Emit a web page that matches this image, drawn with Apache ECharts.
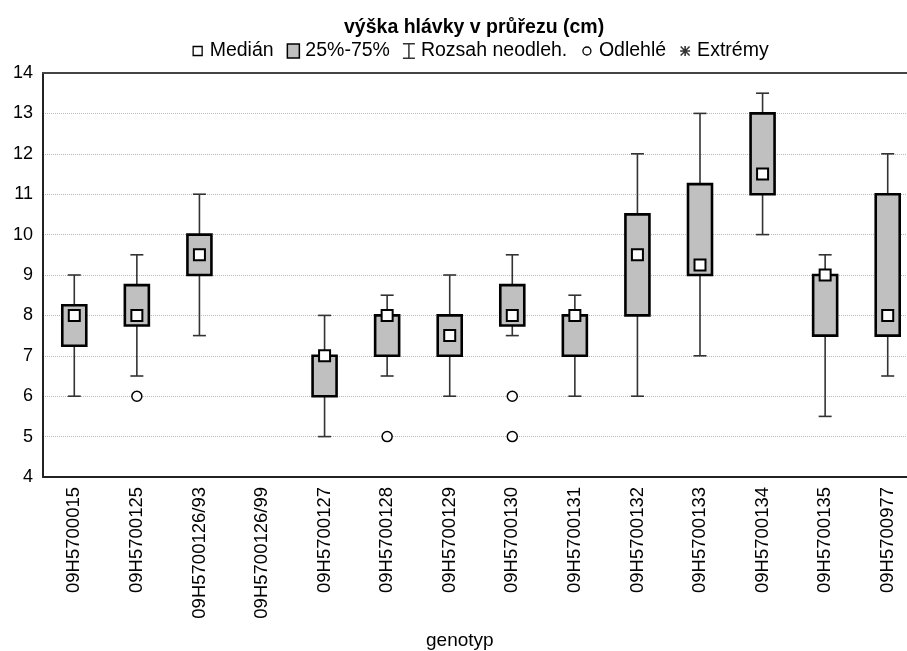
<!DOCTYPE html>
<html>
<head>
<meta charset="utf-8">
<script src="https://cdn.jsdelivr.net/npm/echarts@6/dist/echarts.min.js"></script>
<style>html,body{margin:0;padding:0;background:#fff}#c{width:907px;height:651px}</style>
</head>
<body>
<div id="c"></div>
<script>
const categories = ['09H5700015','09H5700125','09H5700126/93','09H5700126/99','09H5700127','09H5700128','09H5700129','09H5700130','09H5700131','09H5700132','09H5700133','09H5700134','09H5700135','09H5700977'];
const whiskerLow  = [6,    6.5,  7.5, null, 5, 6.5, 6,   7.5,  6,   6,    7,     10,   5.5, 6.5];
const q1          = [7.25, 7.75, 9,   null, 6, 7,   7,   7.75, 7,   8,    9,     11,   7.5, 7.5];
const median      = [8,    8,    9.5, null, 7, 8,   7.5, 8,    8,   9.5,  9.25,  11.5, 9,   8];
const q3          = [8.25, 8.75, 10,  null, 7, 8,   8,   8.75, 8,   10.5, 11.25, 13,   9,   11];
const whiskerHigh = [9,    9.5,  11,  null, 8, 8.5, 9,   9.5,  8.5, 12,   13,    13.5, 9.5, 12];
const outliers = [[1, 6], [5, 5], [7, 6], [7, 5]];
const yTicks = [4, 5, 6, 7, 8, 9, 10, 11, 12, 13, 14];

const FONT = '"Liberation Sans", Arial, sans-serif';
const rows = [];
categories.forEach((c, i) => {
  if (median[i] != null) rows.push([i, whiskerLow[i], q1[i], median[i], q3[i], whiskerHigh[i]]);
});
const medPts = rows.map(r => [r[0], r[3]]);

const BOX_W = 24, CAP_W = 13;
function renderBox(params, api) {
  const x = api.value(0);
  const a = api.coord([x, api.value(2)]);
  const b = api.coord([x, api.value(4)]);
  return {
    type: 'rect',
    shape: { x: a[0] - BOX_W / 2, y: b[1], width: BOX_W, height: Math.max(a[1] - b[1], 0.1) },
    style: { fill: '#c0c0c0', stroke: '#000', lineWidth: 2.6 }
  };
}
function renderWhisker(params, api) {
  const x = api.value(0);
  const lo = api.coord([x, api.value(1)]);
  const bq1 = api.coord([x, api.value(2)]);
  const bq3 = api.coord([x, api.value(4)]);
  const hi = api.coord([x, api.value(5)]);
  const st = { stroke: '#333', lineWidth: 1.6 };
  return {
    type: 'group',
    children: [
      { type: 'line', shape: { x1: lo[0], y1: lo[1], x2: bq1[0], y2: bq1[1] }, style: st },
      { type: 'line', shape: { x1: bq3[0], y1: bq3[1], x2: hi[0], y2: hi[1] }, style: st },
      { type: 'line', shape: { x1: lo[0] - CAP_W / 2, y1: lo[1], x2: lo[0] + CAP_W / 2, y2: lo[1] }, style: st },
      { type: 'line', shape: { x1: hi[0] - CAP_W / 2, y1: hi[1], x2: hi[0] + CAP_W / 2, y2: hi[1] }, style: st }
    ]
  };
}

// legend icons drawn in a 14x16 box (leading moves fix the box)
const ICON_MED = 'path://M0,0M14,16M2.5,3.5H11.5V12.5H2.5Z';
const ICON_BOX = 'path://M0,0M14,16M1,1H13V15H1Z';
const ICON_IBEAM = 'path://M0,0M14,16M1,0H13V1.5H7.75V14.5H13V16H1V14.5H6.25V1.5H1Z';
const ICON_CIRC = 'path://M0,0M14,16M3,8A4,4 0 1 1 11,8A4,4 0 1 1 3,8Z';
const ICON_STAR = 'path://M0,0M14,16M6.2,3H7.8V13H6.2Z M2,7.2H12V8.8H2Z M3.1,3L12,11.9L10.9,13L2,4.1Z M10.9,3L12,4.1L3.1,13L2,11.9Z';
const STAR = 'path://M4.2,0H5.8V10H4.2Z M0,4.2H10V5.8H0Z M1.1,0L10,8.9L8.9,10L0,1.1Z M8.9,0L10,1.1L1.1,10L0,8.9Z';

const chart = echarts.init(document.getElementById('c'), null, { renderer: 'canvas' });
chart.setOption({
  animation: false,
  backgroundColor: '#fff',
  title: [
    { text: 'výška hlávky v průřezu (cm)', left: 339, top: 13,
      textStyle: { fontFamily: FONT, fontSize: 19.5, fontWeight: 'bold', color: '#000' } },
    { text: 'genotyp', left: 421, top: 626,
      textStyle: { fontFamily: FONT, fontSize: 19, fontWeight: 'normal', color: '#000' } }
  ],
  legend: {
    left: 185, top: 36, itemGap: 12, itemWidth: 14, itemHeight: 16, selectedMode: false,
    textStyle: { fontFamily: FONT, fontSize: 19.5, color: '#000' },
    data: [
      { name: 'Medián', icon: ICON_MED, itemStyle: { color: '#fff', borderColor: '#000', borderWidth: 1.3 } },
      { name: '25%-75%', icon: ICON_BOX, itemStyle: { color: '#c0c0c0', borderColor: '#000', borderWidth: 1.5 } },
      { name: 'Rozsah neodleh.', icon: ICON_IBEAM, itemStyle: { color: '#333', borderWidth: 0 } },
      { name: 'Odlehlé', icon: ICON_CIRC, itemStyle: { color: '#fff', borderColor: '#000', borderWidth: 1.3 } },
      { name: 'Extrémy', icon: ICON_STAR, itemStyle: { color: '#000', borderWidth: 0 } }
    ]
  },
  grid: { left: 43, width: 876, top: 73, bottom: 174, containLabel: false, outerBoundsMode: 'none' },
  xAxis: [
    { type: 'category', data: categories, boundaryGap: true,
      axisLine: { lineStyle: { color: '#222', width: 2 } },
      axisTick: { inside: true, alignWithLabel: true, length: 5, lineStyle: { color: '#222', width: 1.5 } },
      axisLabel: { rotate: 90, interval: 0, margin: 10, fontFamily: FONT, fontSize: 18.5, color: '#000' },
      splitLine: { show: false } },
    { type: 'category', data: categories, position: 'top', boundaryGap: true,
      axisLine: { lineStyle: { color: '#444', width: 2 } },
      axisTick: { inside: true, alignWithLabel: true, length: 5, lineStyle: { color: '#444', width: 1.5 } },
      axisLabel: { show: false }, splitLine: { show: false } }
  ],
  yAxis: {
    type: 'value', min: yTicks[0], max: yTicks[yTicks.length - 1], interval: 1,
    axisLine: { show: true, lineStyle: { color: '#222', width: 2 } },
    axisTick: { show: false },
    axisLabel: { margin: 10, fontFamily: FONT, fontSize: 18, color: '#000' },
    splitLine: { show: true, lineStyle: { type: [1, 1], color: '#b8b8b8', width: 1 } }
  },
  series: [
    { name: 'Rozsah neodleh.', type: 'custom', renderItem: renderWhisker, data: rows,
      encode: { x: 0, y: [1, 2, 3, 4, 5] }, itemStyle: { color: '#333' }, z: 2 },
    { name: '25%-75%', type: 'custom', renderItem: renderBox, data: rows,
      encode: { x: 0, y: [1, 2, 3, 4, 5] }, itemStyle: { color: '#c0c0c0', borderColor: '#000', borderWidth: 1.5 }, z: 3 },
    { name: 'Medián', type: 'scatter', data: medPts, symbol: 'rect', symbolSize: 11,
      itemStyle: { color: '#fff', borderColor: '#000', borderWidth: 2, opacity: 1 }, z: 4 },
    { name: 'Odlehlé', type: 'scatter', data: outliers, symbol: 'circle', symbolSize: 10,
      itemStyle: { color: '#fff', borderColor: '#000', borderWidth: 1.5, opacity: 1 }, z: 4 },
    { name: 'Extrémy', type: 'scatter', data: [], symbol: STAR, symbolSize: 10,
      itemStyle: { color: '#000' }, z: 4 }
  ]
});
</script>
</body>
</html>
